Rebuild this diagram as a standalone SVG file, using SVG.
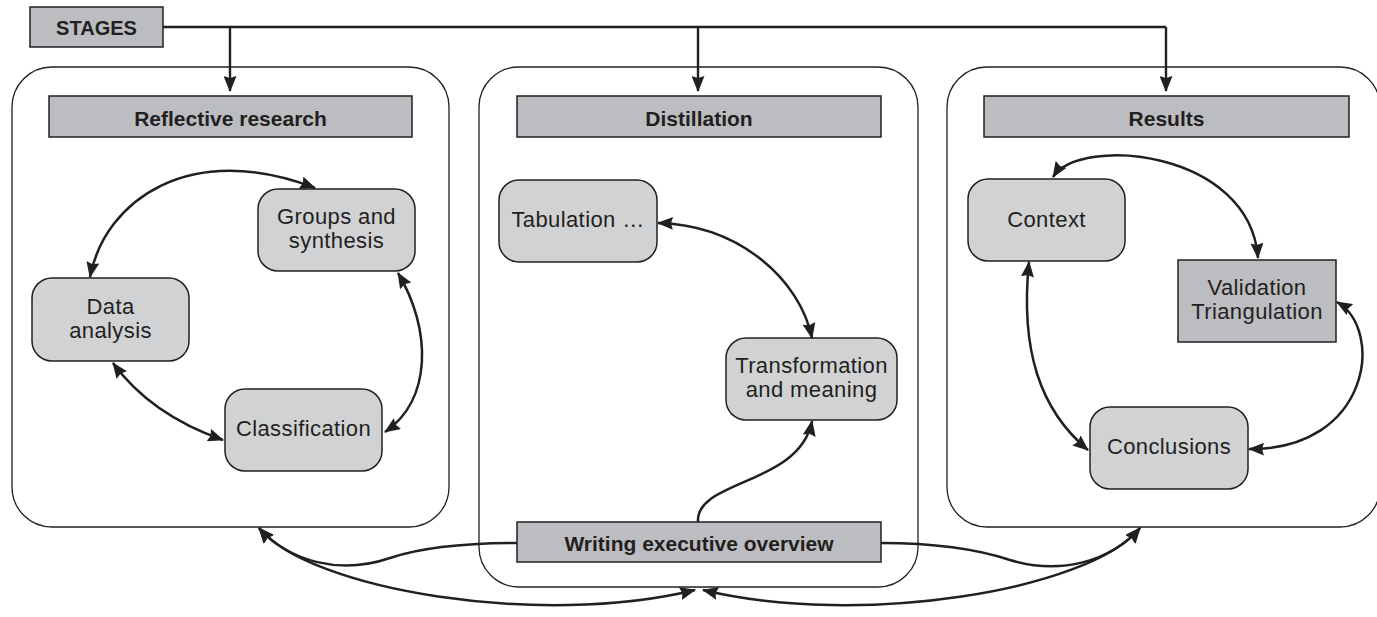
<svg xmlns="http://www.w3.org/2000/svg" width="1377" height="617" viewBox="0 0 1377 617">
<defs>
<marker id="ah" viewBox="0 0 16 13" refX="15" refY="6.5" markerWidth="16" markerHeight="13" markerUnits="userSpaceOnUse" orient="auto-start-reverse">
<path d="M0,0 L16,6.5 L0,13 L2,6.5 z" fill="#231f20"/>
</marker>
<style>
.cont{fill:#fff;stroke:#231f20;stroke-width:1.3}
.hdr{fill:#bcbdc0;stroke:#231f20;stroke-width:1.5}
.node{fill:#d1d2d4;stroke:#231f20;stroke-width:1.5}
.b{font-family:"Liberation Sans",Arial,sans-serif;font-weight:bold;font-size:21px;fill:#231f20;text-anchor:middle}
.t{font-family:"Liberation Sans",Arial,sans-serif;font-size:22px;letter-spacing:0.4px;fill:#231f20;text-anchor:middle}
.c{fill:none;stroke:#231f20;stroke-width:2.5}
</style>
</defs>
<rect width="1377" height="617" fill="#fff"/>

<g id="container-reflective"><rect class="cont" x="12" y="67" width="437" height="460" rx="40"/></g>
<g id="container-distillation"><rect class="cont" x="479" y="67" width="439" height="520" rx="40"/></g>
<g id="container-results"><rect class="cont" x="947" y="67" width="433" height="460" rx="40"/></g>

<g id="stages"><rect class="hdr" x="30" y="7" width="133" height="40"/><text class="b" x="96.5" y="35" style="font-size:20px">STAGES</text></g>
<g id="reflective-research"><rect class="hdr" x="49" y="96" width="363" height="41"/><text class="b" x="230.5" y="126">Reflective research</text></g>
<g id="distillation"><rect class="hdr" x="517" y="96" width="364" height="41"/><text class="b" x="699" y="126">Distillation</text></g>
<g id="results"><rect class="hdr" x="984" y="96" width="365" height="41"/><text class="b" x="1166.5" y="126">Results</text></g>

<g id="groups-synthesis"><rect class="node" x="258" y="189" width="157" height="82" rx="20"/><text class="t" x="336.5" y="224">Groups and</text><text class="t" x="336.5" y="248">synthesis</text></g>
<g id="data-analysis"><rect class="node" x="32" y="278" width="157" height="83" rx="20"/><text class="t" x="110.5" y="314">Data</text><text class="t" x="110.5" y="338">analysis</text></g>
<g id="classification"><rect class="node" x="225" y="389" width="157" height="82" rx="20"/><text class="t" x="303.5" y="436">Classification</text></g>

<g id="tabulation"><rect class="node" x="499" y="180" width="158" height="82" rx="20"/><text class="t" x="578" y="227">Tabulation …</text></g>
<g id="transformation"><rect class="node" x="726" y="338" width="171" height="82" rx="20"/><text class="t" x="811.5" y="373">Transformation</text><text class="t" x="811.5" y="397">and meaning</text></g>
<g id="writing-overview"><rect class="hdr" x="517" y="522" width="364" height="40"/><text class="b" x="699" y="551">Writing executive overview</text></g>

<g id="context"><rect class="node" x="968" y="179" width="157" height="82" rx="20"/><text class="t" x="1046.5" y="227">Context</text></g>
<g id="validation"><rect class="hdr" x="1178" y="260" width="158" height="82"/><text class="t" x="1257" y="295">Validation</text><text class="t" x="1257" y="319">Triangulation</text></g>
<g id="conclusions"><rect class="node" x="1090" y="407" width="158" height="82" rx="20"/><text class="t" x="1169" y="454">Conclusions</text></g>

<g id="connectors">
<path class="c" d="M163 27 H1166" style="stroke-width:2.4"/>
<path class="c" d="M230 27 V91" style="stroke-width:2.4" marker-end="url(#ah)"/>
<path class="c" d="M698 27 V91" style="stroke-width:2.4" marker-end="url(#ah)"/>
<path class="c" d="M1166 27 V91" style="stroke-width:2.4" marker-end="url(#ah)"/>

<path class="c" d="M90 277 C105 200 190 140 315 188" marker-start="url(#ah)" marker-end="url(#ah)"/>
<path class="c" d="M113 363 C140 400 180 425 223 440" marker-start="url(#ah)" marker-end="url(#ah)"/>
<path class="c" d="M398 273 C432 330 432 400 385 432" marker-start="url(#ah)" marker-end="url(#ah)"/>

<path class="c" d="M658 223 C740 225 800 280 812 338" marker-start="url(#ah)" marker-end="url(#ah)"/>
<path class="c" d="M698 522 C695 480 800 485 812 421" marker-end="url(#ah)"/>

<path class="c" d="M1053 177 C1080 135 1250 150 1258 258" marker-start="url(#ah)" marker-end="url(#ah)"/>
<path class="c" d="M1029 262 C1020 350 1040 410 1088 450" marker-start="url(#ah)" marker-end="url(#ah)"/>
<path class="c" d="M1337 302 C1385 330 1370 450 1249 449" marker-start="url(#ah)" marker-end="url(#ah)"/>

<path class="c" d="M517 543 C460 543 420 548 390 558 C340 575 290 562 259 528" marker-end="url(#ah)"/>
<path class="c" d="M259 528 C310 590 540 628 695 590" marker-start="url(#ah)" marker-end="url(#ah)"/>
<path class="c" d="M881 543 C940 543 980 550 1010 560 C1060 575 1110 562 1140 528" marker-end="url(#ah)"/>
<path class="c" d="M1140 528 C1090 590 860 628 703 590" marker-start="url(#ah)" marker-end="url(#ah)"/>
</g>
</svg>
